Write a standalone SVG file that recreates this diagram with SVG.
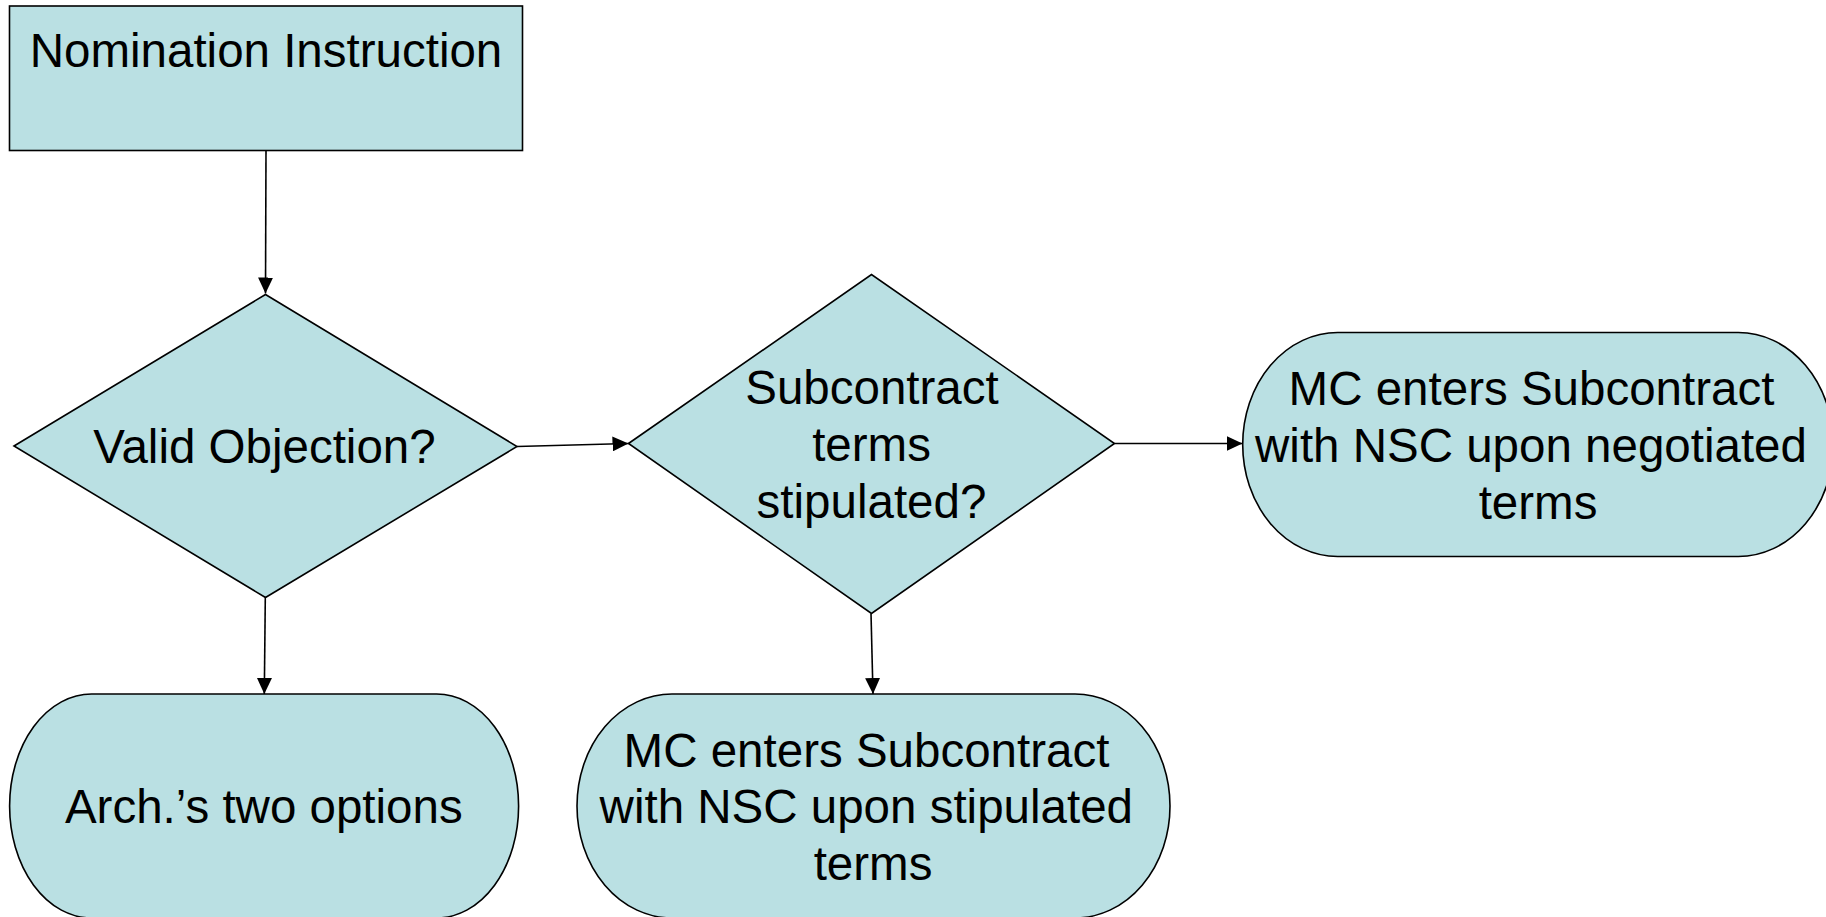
<svg xmlns="http://www.w3.org/2000/svg" width="1826" height="917" viewBox="0 0 1826 917">
<style>
.shape{fill:#BAE0E3;stroke:#000;stroke-width:1.6}
.lbl{font-family:"Liberation Sans",Arial,sans-serif;font-size:47.5px;fill:#000;text-anchor:middle}
.conn{stroke:#000;stroke-width:1.6;fill:none;marker-end:url(#arrow)}
</style>
<defs>
<marker id="arrow" markerUnits="userSpaceOnUse" markerWidth="16" markerHeight="15" refX="16" refY="7.5" orient="auto">
<path d="M0,0 L16,7.5 L0,15 z" fill="#000"/>
</marker>
</defs>
<rect width="1826" height="917" fill="#fff"/>
<g id="connectors">
<line class="conn" x1="266" y1="150" x2="265.5" y2="293.5"/>
<line class="conn" x1="517" y1="446.5" x2="628.5" y2="443.5"/>
<line class="conn" x1="1114.5" y1="443.5" x2="1242.5" y2="443.5"/>
<line class="conn" x1="265.3" y1="597.5" x2="264.3" y2="694"/>
<line class="conn" x1="871" y1="613.5" x2="873" y2="694"/>
</g>
<g id="n-nomination">
<rect class="shape" x="9.5" y="6" width="513" height="144.5"/>
<text class="lbl" x="266" y="66.7">Nomination Instruction</text>
</g>
<g id="n-valid-objection">
<polygon class="shape" points="14,446 265.5,294.5 517,446.5 265.5,597.5"/>
<text class="lbl" x="264.5" y="463.3">Valid Objection?</text>
</g>
<g id="n-subcontract-terms">
<polygon class="shape" points="628.5,443.5 871.5,274.5 1114.5,443.5 871.5,613.5"/>
<text class="lbl" x="872" y="403.5">Subcontract</text>
<text class="lbl" x="871.5" y="460.5">terms</text>
<text class="lbl" x="871.5" y="518">stipulated?</text>
</g>
<g id="n-negotiated">
<rect class="shape" x="1242.7" y="332.5" width="590.6" height="224" rx="95" ry="112"/>
<text class="lbl" x="1531.5" y="405">MC enters Subcontract</text>
<text class="lbl" x="1531" y="462">with NSC upon negotiated</text>
<text class="lbl" x="1538" y="519">terms</text>
</g>
<g id="n-arch-options">
<rect class="shape" x="9.6" y="694" width="509" height="224" rx="82" ry="112"/>
<text class="lbl" x="263.8" y="823.3">Arch.’s two options</text>
</g>
<g id="n-stipulated">
<rect class="shape" x="577" y="694" width="593" height="224" rx="95" ry="112"/>
<text class="lbl" x="866.5" y="767">MC enters Subcontract</text>
<text class="lbl" x="866.3" y="823.3">with NSC upon stipulated</text>
<text class="lbl" x="873" y="880">terms</text>
</g>
</svg>
